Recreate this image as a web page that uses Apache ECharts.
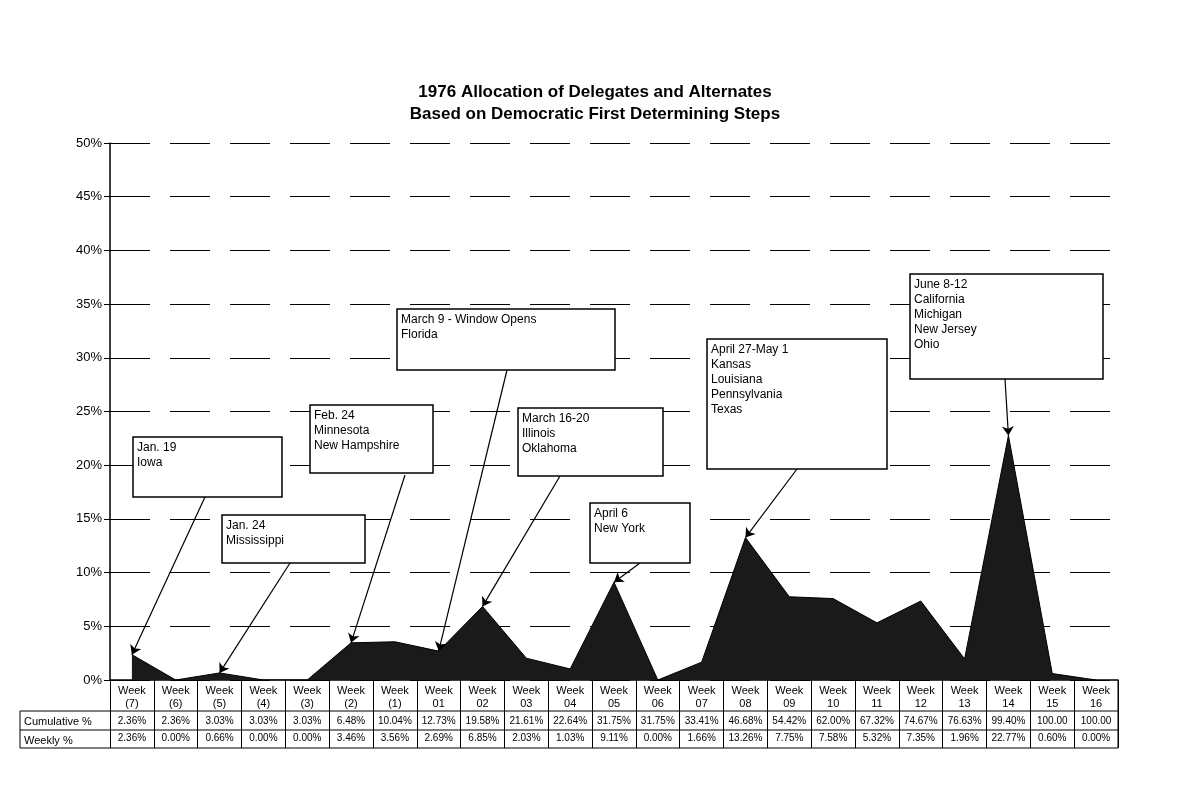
<!DOCTYPE html><html><head><meta charset="utf-8"><script src="https://cdn.jsdelivr.net/npm/echarts@6/dist/echarts.min.js"></script></head><body style="margin:0;background:#fff"><div id="c" style="width:1200px;height:800px"></div><script>
const weeks=['(7)','(6)','(5)','(4)','(3)','(2)','(1)','01','02','03','04','05','06','07','08','09','10','11','12','13','14','15','16'];
const cumulative=['2.36%','2.36%','3.03%','3.03%','3.03%','6.48%','10.04%','12.73%','19.58%','21.61%','22.64%','31.75%','31.75%','33.41%','46.68%','54.42%','62.00%','67.32%','74.67%','76.63%','99.40%','100.00','100.00'];
const weekly=[2.36,0.00,0.66,0.00,0.00,3.46,3.56,2.69,6.85,2.03,1.03,9.11,0.00,1.66,13.26,7.75,7.58,5.32,7.35,1.96,22.77,0.60,0.00];
const notes=[
 {t:'Jan. 19\nIowa',box:[133,437,149,60],from:[205,497],to:0},
 {t:'Jan. 24\nMississippi',box:[222,515,143,48],from:[290,563],to:2},
 {t:'Feb. 24\nMinnesota\nNew Hampshire',box:[310,405,123,68],from:[405,475],to:5},
 {t:'March 9 - Window Opens\nFlorida',box:[397,309,218,61],from:[507,370],to:7},
 {t:'March 16-20\nIllinois\nOklahoma',box:[518,408,145,68],from:[560,476],to:8},
 {t:'April 6\nNew York',box:[590,503,100,60],from:[640,563],to:11},
 {t:'April 27-May 1\nKansas\nLouisiana\nPennsylvania\nTexas',box:[707,339,180,130],from:[797,469],to:14},
 {t:'June 8-12\nCalifornia\nMichigan\nNew Jersey\nOhio',box:[910,274,193,105],from:[1005,379],to:20}
];
const ch=echarts.init(document.getElementById('c'));
const F='Liberation Sans, Arial, sans-serif';
const g=[];
notes.forEach(n=>{g.push({type:'rect',shape:{x:n.box[0],y:n.box[1],width:n.box[2],height:n.box[3]},style:{fill:'#fff',stroke:'#000',lineWidth:1.5},z:10});
 g.push({type:'text',x:n.box[0]+4,y:n.box[1]+3,style:{text:n.t,font:'12px '+F,fill:'#000',lineHeight:15},z:11});});
g.push({type:'text',x:24,y:716,style:{text:'Cumulative %',font:'11px '+F,fill:'#000'}});
g.push({type:'text',x:24,y:735,style:{text:'Weekly %',font:'11px '+F,fill:'#000'}});
[711,730,748].forEach(y=>g.push({type:'line',shape:{x1:20,y1:y,x2:1118,y2:y},style:{stroke:'#000',lineWidth:1}}));
g.push({type:'line',shape:{x1:20,y1:711,x2:20,y2:748},style:{stroke:'#000'}});
g.push({type:'line',shape:{x1:1118,y1:680,x2:1118,y2:748},style:{stroke:'#000'}});
ch.setOption({
 animation:false,
 title:{text:'1976 Allocation of Delegates and Alternates\nBased on Democratic First Determining Steps',left:590,top:76,textAlign:'center',textStyle:{fontFamily:F,fontSize:17,fontWeight:'bold',lineHeight:22,color:'#000'}},
 grid:{left:110,right:82,top:143,bottom:120},
 xAxis:{type:'category',data:weeks,boundaryGap:true,
  axisLine:{lineStyle:{color:'#000',width:1.5}},
  axisTick:{show:true,interval:0,length:68,lineStyle:{color:'#000',width:1}},
  axisLabel:{interval:0,margin:4,fontFamily:F,color:'#000',lineHeight:13,
   formatter:(v,i)=>'Week\n'+v+'\n{c|'+cumulative[i]+'}\n{w|'+weekly[i].toFixed(2)+'%}',
   fontSize:11,rich:{c:{fontSize:10,lineHeight:19,padding:[4,0,0,0]},w:{fontSize:10,lineHeight:19}}}},
 yAxis:{type:'value',min:0,max:50,interval:5,
  axisLabel:{formatter:'{value}%',fontFamily:F,fontSize:13,color:'#000'},
  axisLine:{show:true,lineStyle:{color:'#000',width:1.5}},axisTick:{show:true,inside:false,length:6,lineStyle:{color:'#000'}},
  splitLine:{lineStyle:{color:'#000',type:[40,20],width:1}}},
 series:[{type:'line',data:weekly,symbol:'none',lineStyle:{color:'#000',width:1},areaStyle:{color:'#1a1a1a',opacity:1},
  markLine:{silent:true,symbol:['none','arrow'],symbolSize:9,label:{show:false},lineStyle:{color:'#000',type:'solid',width:1.2},
   data:notes.map(n=>[{x:n.from[0],y:n.from[1]},{coord:[n.to,weekly[n.to]]}])}}],
 graphic:g
});
</script></body></html>
